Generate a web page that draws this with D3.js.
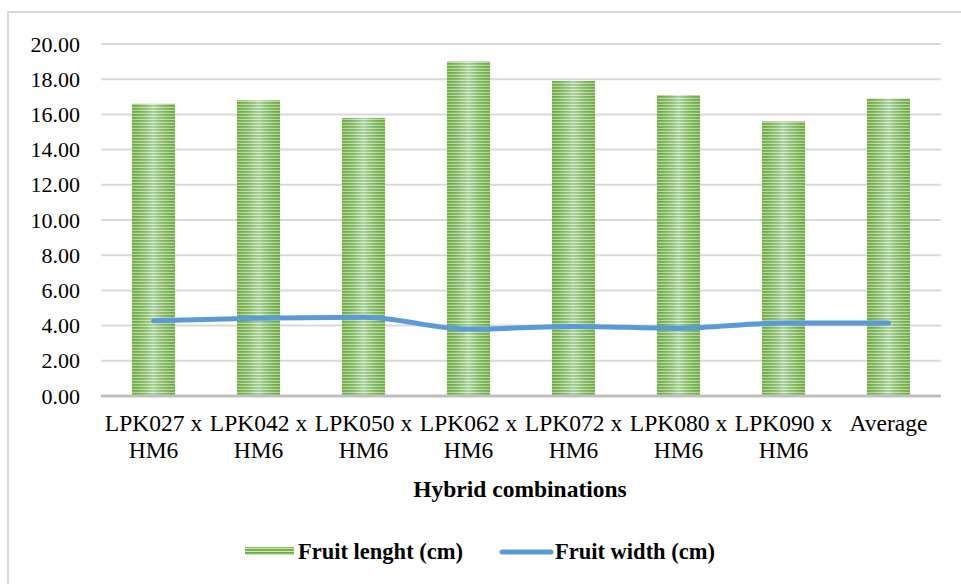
<!DOCTYPE html>
<html><head><meta charset="utf-8">
<script src="https://cdn.jsdelivr.net/npm/d3@7"></script>
<style>
body{margin:0;background:#fff}svg{display:block}
svg text{font-family:"Liberation Serif","Times New Roman",Tinos,serif;fill:#000}
</style>
</head><body>
<svg id="c" width="961" height="584"></svg>
<script>
const categories = [["LPK027 x","HM6"],["LPK042 x","HM6"],["LPK050 x","HM6"],["LPK062 x","HM6"],["LPK072 x","HM6"],["LPK080 x","HM6"],["LPK090 x","HM6"],["Average"]];
const fruitLength = [16.6, 16.8, 15.8, 19.0, 17.9, 17.1, 15.6, 16.9];
const fruitWidth = [4.28, 4.42, 4.48, 3.8, 3.95, 3.85, 4.15, 4.15];
const yTicks = [0,2,4,6,8,10,12,14,16,18,20];
const seriesNames = ["Fruit lenght (cm)", "Fruit width (cm)"];
const xTitle = "Hybrid combinations";

const svg = d3.select("#c");
const M = {l:101, r:941, t:44, b:396};

svg.append("rect").attr("x",8).attr("y",12).attr("width",970).attr("height",600)
  .attr("fill","#fff").attr("stroke","#d9d9d9").attr("stroke-width",2);

const defs = svg.append("defs");
const pat = defs.append("pattern").attr("id","stripes").attr("patternUnits","userSpaceOnUse")
  .attr("width",8).attr("height",3);
pat.append("rect").attr("width",8).attr("height",3).attr("fill","#cfe6bb");
pat.append("rect").attr("width",8).attr("height",1.8).attr("fill","#6eae3f");
const grad = defs.append("linearGradient").attr("id","sheen").attr("x1","0").attr("x2","1");
grad.append("stop").attr("offset","0").attr("stop-color","#5f9e33").attr("stop-opacity",0.25);
grad.append("stop").attr("offset","0.5").attr("stop-color","#eaf6ff").attr("stop-opacity",0.45);
grad.append("stop").attr("offset","1").attr("stop-color","#5f9e33").attr("stop-opacity",0.25);

const x = d3.scaleBand().domain(d3.range(categories.length)).range([M.l,M.r]).paddingInner(0.59).paddingOuter(0.295);
const y = d3.scaleLinear().domain([0,20]).range([M.b,M.t]);

svg.append("g").selectAll("line").data(yTicks.filter(d=>d>0)).join("line")
  .attr("x1",M.l).attr("x2",M.r).attr("y1",d=>y(d)).attr("y2",d=>y(d))
  .attr("stroke","#d9d9d9").attr("stroke-width",2);

const yAxis = d3.axisLeft(y).tickValues(yTicks).tickFormat(d3.format(".2f")).tickSize(0).tickPadding(21);
const gy = svg.append("g").attr("transform",`translate(${M.l},0)`).call(yAxis);
gy.attr("font-family",null).attr("font-size",null);
gy.select(".domain").remove();
gy.selectAll("text").attr("font-size",22).attr("fill","#000");

const bars = svg.append("g");
bars.selectAll("rect.b").data(fruitLength).join("rect").attr("class","b")
  .attr("x",(d,i)=>x(i)).attr("width",x.bandwidth()).attr("y",d=>y(d)).attr("height",d=>y(0)-y(d))
  .attr("fill","url(#stripes)");
bars.selectAll("rect.s").data(fruitLength).join("rect").attr("class","s")
  .attr("x",(d,i)=>x(i)).attr("width",x.bandwidth()).attr("y",d=>y(d)).attr("height",d=>y(0)-y(d))
  .attr("fill","url(#sheen)");

svg.append("line").attr("x1",M.l).attr("x2",M.r).attr("y1",y(0)).attr("y2",y(0))
  .attr("stroke","#bfbfbf").attr("stroke-width",3);

const line = d3.line().x((d,i)=>x(i)+x.bandwidth()/2).y(d=>y(d)).curve(d3.curveMonotoneX);
svg.append("path").datum(fruitWidth).attr("d",line).attr("fill","none")
  .attr("stroke","#5b9bd5").attr("stroke-width",5).attr("stroke-linecap","round");

const xl = svg.append("g");
categories.forEach((lines,i)=>{
  const cx = x(i)+x.bandwidth()/2;
  const t = xl.append("text").attr("x",cx).attr("y",431)
    .attr("text-anchor","middle").attr("font-size",23.5);
  lines.forEach((s,j)=>t.append("tspan").attr("x",cx).attr("dy",j?26.5:0).text(s));
});

svg.append("text").attr("x",520).attr("y",497).attr("text-anchor","middle")
  .attr("font-size",23.5).attr("font-weight","bold").text(xTitle);

const lg = svg.append("g");
lg.append("rect").attr("x",245).attr("y",547).attr("width",49).attr("height",8).attr("fill","url(#stripes)");
lg.append("text").attr("x",298).attr("y",559).attr("font-size",22.5).attr("font-weight","bold").text(seriesNames[0]);
lg.append("line").attr("x1",502).attr("x2",551).attr("y1",552).attr("y2",552).attr("stroke","#5b9bd5").attr("stroke-width",5).attr("stroke-linecap","round");
lg.append("text").attr("x",555).attr("y",559).attr("font-size",22.5).attr("font-weight","bold").text(seriesNames[1]);
</script>
</body></html>
